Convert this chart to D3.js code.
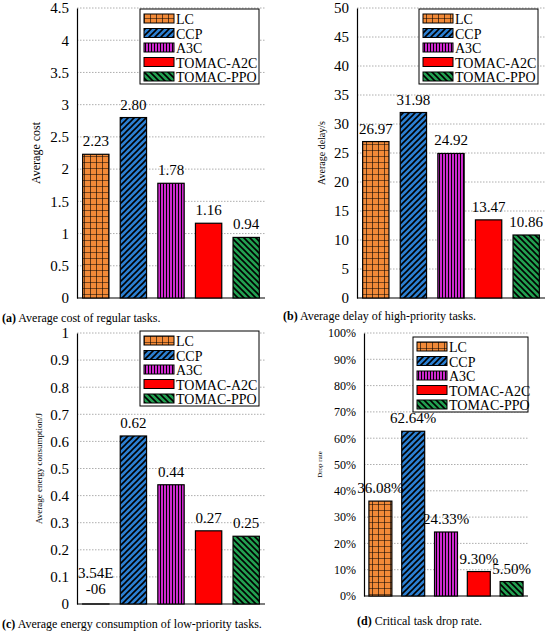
<!DOCTYPE html><html><head><meta charset="utf-8">
<script src="https://cdn.jsdelivr.net/npm/d3@7"></script>
<style>body{margin:0;background:#fff}text{font-family:"Liberation Serif",serif}</style></head><body>
<svg id="c" width="550" height="633"></svg>
<script>
const methods=["LC","CCP","A3C","TOMAC-A2C","TOMAC-PPO"];
const costVals=[2.23,2.80,1.78,1.16,0.94];
const costLabels=["2.23","2.80","1.78","1.16","0.94"];
const delayVals=[26.97,31.98,24.92,13.47,10.86];
const delayLabels=["26.97","31.98","24.92","13.47","10.86"];
const energyVals=[0.00000354,0.62,0.44,0.27,0.25];
const energyLabels=["3.54E\n-06","0.62","0.44","0.27","0.25"];
const dropVals=[0.3608,0.6264,0.2433,0.093,0.055];
const dropLabels=["36.08%","62.64%","24.33%","9.30%","5.50%"];
const costTicks=d3.range(0,4.51,0.5), delayTicks=d3.range(0,50.1,5), energyTicks=d3.range(0,1.01,0.1), dropTicks=d3.range(0,1.001,0.1);

const svg=d3.select("#c"), defs=svg.append("defs");
function pat(id,fill,draw){const p=defs.append("pattern").attr("id",id).attr("patternUnits","userSpaceOnUse").attr("width",6).attr("height",6);
p.append("rect").attr("width",6).attr("height",6).attr("fill",fill);draw(p);}
pat("pLC","#f28a38",p=>{p.append("path").attr("d","M0,0H6M0,0V6").attr("stroke","#000").attr("stroke-width",1.2);});
pat("pCCP","#2b7fd2",p=>{p.append("path").attr("d","M-1,7L7,-1M-1,1L1,-1M5,7L7,5").attr("stroke","#000").attr("stroke-width",1.6);});
pat("pA3C","#e62ee6",p=>{p.append("path").attr("d","M1.5,0V6M4.5,0V6").attr("stroke","#000").attr("stroke-width",1.2);});
pat("pPPO","#22a050",p=>{p.append("path").attr("d","M-1,-1L7,7M5,-1L7,1M-1,5L1,7").attr("stroke","#000").attr("stroke-width",1.6);});
const fills=["url(#pLC)","url(#pCCP)","url(#pA3C)","#ff0000","url(#pPPO)"];

function panel(o){
 const g=svg.append("g");
 const x=d3.scaleBand().domain(methods).range([o.x0,o.x1]).paddingInner(0.3).paddingOuter(0.15);
 const y=d3.scaleLinear().domain([0,o.max]).range([o.yb,o.yt]);
 g.selectAll(".gl").data(o.ticks.slice(1)).join("line").attr("x1",o.x0).attr("x2",o.x1).attr("y1",d=>y(d)).attr("y2",d=>y(d)).attr("stroke","#999").attr("stroke-dasharray","1.5,1.5").attr("stroke-width",0.8);
 const ax=g.append("g").attr("transform",`translate(${o.x0},0)`).call(d3.axisLeft(y).tickValues(o.ticks).tickFormat(o.fmt).tickSize(0).tickPadding(8));
 ax.select(".domain").attr("stroke","#000").attr("stroke-width",1.2);
 ax.selectAll("text").attr("font-size",o.tfs||15).attr("font-family","Liberation Serif");
 g.append("line").attr("x1",o.x0).attr("x2",o.x1).attr("y1",o.yb).attr("y2",o.yb).attr("stroke","#000").attr("stroke-width",1.2);
 g.selectAll(".b").data(o.vals).join("rect").attr("x",(d,i)=>x(methods[i])).attr("width",x.bandwidth()).attr("y",d=>y(d)).attr("height",d=>o.yb-y(d)).attr("fill",(d,i)=>fills[i]).attr("stroke","#000").attr("stroke-width",1.2);
 g.selectAll(".l").data(o.vals).join("text").attr("text-anchor","middle").attr("font-size",15).each(function(d,i){
   const lines=o.labels[i].split("\n"); const t=d3.select(this);
   const cx=x(methods[i])+x.bandwidth()/2;
   if(lines.length>1){lines.forEach((s,k)=>t.append("tspan").attr("x",cx).attr("y",y(d)-26+k*16).text(s));}
   else t.attr("x",cx).attr("y",y(d)-8).text(lines[0]);});
 g.append("text").attr("transform",`translate(${o.ylx},${(o.yt+o.yb)/2}) rotate(-90)`).attr("text-anchor","middle").attr("font-size",o.ylfs).text(o.ylabel);
 // legend
 const L=g.append("g");
 L.append("rect").attr("x",o.lx).attr("y",o.ly).attr("width",o.lw).attr("height",75).attr("fill","#fff").attr("stroke","#000").attr("stroke-width",1);
 methods.forEach((m,i)=>{const yy=o.ly+3+i*14.5;
   L.append("rect").attr("x",o.lx+4).attr("y",yy+2).attr("width",30).attr("height",9).attr("fill",fills[i]).attr("stroke","#000").attr("stroke-width",1);
   L.append("text").attr("x",o.lx+36).attr("y",yy+12).attr("font-size",14).text(m);});
 const c=g.append("text").attr("x",o.cx).attr("y",o.cy).attr("font-size",12);
 c.append("tspan").attr("font-weight","bold").text(o.cl);c.append("tspan").text(" "+o.cap);
}
panel({x0:77,x1:265,yt:8,yb:298,max:4.5,ticks:costTicks,fmt:d3.format(""),vals:costVals,labels:costLabels,ylabel:"Average cost",ylx:40,ylfs:12,lx:140,ly:9,lw:119,cx:2,cy:322,cl:"(a)",cap:"Average cost of regular tasks."});
panel({x0:357,x1:545,yt:8,yb:298,max:50,ticks:delayTicks,fmt:d3.format(""),vals:delayVals,labels:delayLabels,ylabel:"Average delay/s",ylx:325,ylfs:10,lx:419,ly:9,lw:119,cx:283,cy:320,cl:"(b)",cap:"Average delay of high-priority tasks."});
panel({x0:77,x1:265,yt:333,yb:604,max:1,ticks:energyTicks,fmt:d3.format(""),vals:energyVals,labels:energyLabels,ylabel:"Average energy consumption/J",ylx:42,ylfs:9,lx:140,ly:331,lw:119,cx:2,cy:628,cl:"(c)",cap:"Average energy consumption of low-priority tasks."});
panel({x0:364,x1:528,yt:333,yb:596,max:1,ticks:dropTicks,fmt:d3.format(".0%"),tfs:12,vals:dropVals,labels:dropLabels,ylabel:"Drop rate",ylx:322,ylfs:7,lx:413,ly:337,lw:115,cx:357,cy:625,cl:"(d)",cap:"Critical task drop rate."});
</script></body></html>
